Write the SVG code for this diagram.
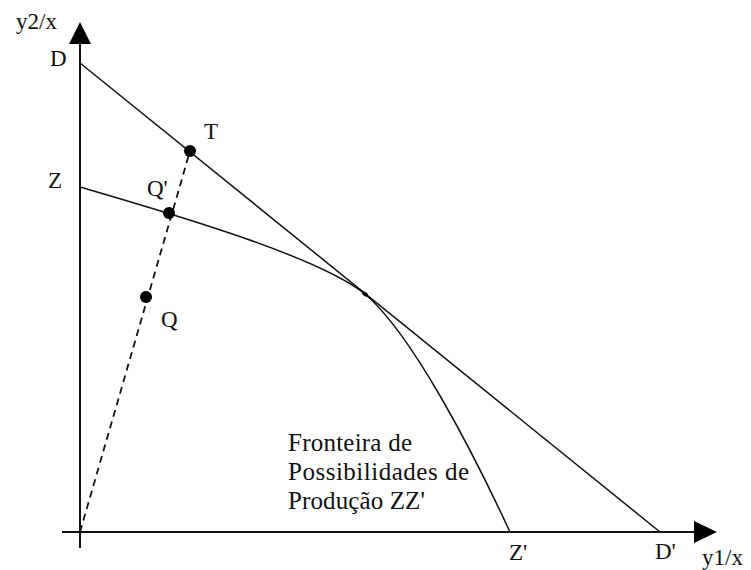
<svg xmlns="http://www.w3.org/2000/svg" width="751" height="570" viewBox="0 0 751 570">
<style>
  text { font-family: "Liberation Serif", "Times New Roman", serif; fill: #111; }
  .lbl { font-size: 23px; }
  .note { font-size: 25px; }
  .axis { stroke: #111; stroke-width: 2; fill: none; }
  .line { stroke: #111; stroke-width: 1.5; fill: none; }
  .dash { stroke: #111; stroke-width: 1.8; fill: none; stroke-dasharray: 7 5; }
  .dot { fill: #000; }
  .head { fill: #000; }
</style>
<rect width="751" height="570" fill="#fff"/>
<g id="axes">
  <line class="axis" x1="80" y1="548" x2="80" y2="40"/>
  <polygon class="head" points="80,22 69,44 91,44"/>
  <line class="axis" x1="62" y1="532" x2="696" y2="532"/>
  <polygon class="head" points="717,532 694,521 694,543"/>
  <text class="lbl" x="16" y="29">y2/x</text>
  <text class="lbl" x="702" y="565">y1/x</text>
</g>
<g id="connectors">
  <line id="budget-line" class="line" x1="80" y1="63" x2="660" y2="532"/>
  <path id="ppf-curve" class="line" d="M80,187 C190,219 320,258 365,294 C412,334 472,450 510,532"/>
  <line id="ray" class="dash" x1="80" y1="532" x2="190" y2="151"/>
</g>
<g id="node-D"><text class="lbl" x="50" y="66">D</text></g>
<g id="node-Z"><text class="lbl" x="48" y="188">Z</text></g>
<g id="node-T">
  <circle class="dot" cx="190" cy="151" r="6"/>
  <text class="lbl" x="204" y="139">T</text>
</g>
<g id="node-Qprime">
  <circle class="dot" cx="169" cy="213" r="6"/>
  <text class="lbl" x="147" y="196">Q'</text>
</g>
<g id="node-Q">
  <circle class="dot" cx="146" cy="297" r="6"/>
  <text class="lbl" x="161" y="327">Q</text>
</g>
<g id="node-tangent">
  <ellipse class="dot" cx="365" cy="294" rx="3.5" ry="2" transform="rotate(39 365 294)"/>
</g>
<g id="node-Zprime"><text class="lbl" x="509" y="560">Z'</text></g>
<g id="node-Dprime"><text class="lbl" x="655" y="559">D'</text></g>
<g id="note">
  <text class="note" x="288" y="451" textLength="124">Fronteira de</text>
  <text class="note" x="288" y="480" textLength="181">Possibilidades de</text>
  <text class="note" x="288" y="509" textLength="137">Produção ZZ'</text>
</g>
</svg>
